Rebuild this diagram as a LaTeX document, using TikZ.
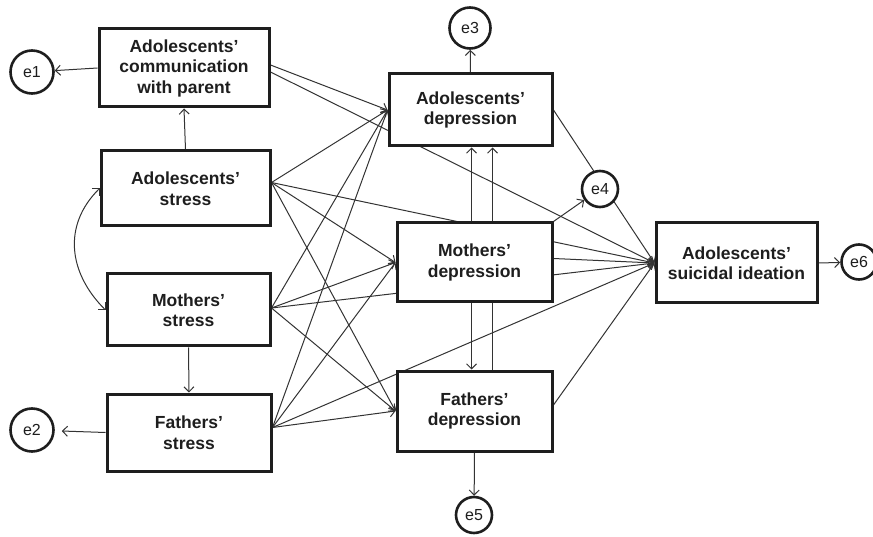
\documentclass[tikz,border=0pt]{standalone}
\usepackage{fontspec}
\setmainfont{Liberation Sans}
\usetikzlibrary{arrows.meta,backgrounds}
\definecolor{ink}{HTML}{1E1E1E}
\definecolor{wire}{HTML}{333333}

\begin{document}
\begin{tikzpicture}[x=1pt,y=-1pt,>={Straight Barb[length=5pt,width=10pt]},
	obs/.style={draw=ink,line width=3pt,fill=white,align=center,text=ink,inner sep=0pt,
		font=\fontsize{17.5}{20.5}\selectfont\bfseries},
	err/.style={draw=ink,circle,line width=2.6pt,fill=white,text=ink,inner sep=0pt,
		font=\fontsize{16}{18}\selectfont},
	link/.style={draw=wire,line width=1pt,->}]
	\useasboundingbox (0,0) rectangle (873,537);
	% observed variables
	\node[obs,minimum width=170pt,minimum height=78pt] (comm) at (184,68) {Adolescents’\\communication\\with parent};
	\node[obs,minimum width=169pt,minimum height=75pt] (as) at (185.5,188.5) {Adolescents’\\stress};
	\node[obs,minimum width=163pt,minimum height=72pt] (ms) at (188.5,310) {Mothers’\\stress};
	\node[obs,minimum width=164pt,minimum height=77pt] (fs) at (189,432.5) {Fathers’\\stress};
	\node[obs,minimum width=163pt,minimum height=72pt] (ad) at (470.5,110) {Adolescents’\\depression};
	\node[obs,minimum width=155pt,minimum height=79pt] (md) at (474.5,262.5) {Mothers’\\depression};
	\node[obs,minimum width=155pt,minimum height=80pt] (fd) at (474.5,411) {Fathers’\\depression};
	\node[obs,minimum width=161pt,minimum height=80pt] (si) at (736.5,263) {Adolescents’\\suicidal ideation};
	% errors
	\node[err,minimum size=43pt] (e1) at (32,72) {e1};
	\node[err,minimum size=43pt] (e2) at (32,430) {e2};
	\node[err,minimum size=41pt] (e3) at (470,28) {e3};
	\node[err,minimum size=36pt] (e4) at (600,189) {e4};
	\node[err,minimum size=36pt] (e5) at (474,515) {e5};
	\node[err,minimum size=35pt] (e6) at (859,262) {e6};
	\coordinate (as-o) at ([yshift=6pt]as.east);
	\coordinate (ms-o) at ([yshift=2pt]ms.east);
	\coordinate (fs-o) at ([yshift=5pt]fs.east);

	\begin{scope}[on background layer]
		\draw[link] (comm.west) -- (e1);
		\draw[link,shorten >=7pt] (fs.west) -- (e2);
		\draw[link] (ad.north) -- (e3);
		\draw[link] (md.north east) -- (e4);
		\draw[link] (fd.south) -- (e5);
		\draw[link] (si.east) -- (e6);
		\draw[link] (as.north) -- (comm.south);
		\draw[link] (ms.south) -- (fs.north);
		\draw[link,<->] (as.west) to[out=225,in=135,looseness=1.1] (ms.west);
		% stress to depression and ideation
		\foreach \s in {as,ms,fs}{
			\foreach \t in {ad,md,fd}
				\draw[link] (\s-o) -- (\t.west);
			\draw[link] (\s-o) -- (si.west);
		}
		\draw[link] ([yshift=3pt]comm.east) -- (ad.west);
		\draw[link] ([yshift=-4pt]comm.east) -- (si.west);
		% between parents and adolescent
		\draw[link] ([xshift=-3pt]md.north) -- ([xshift=-3pt]md.north |- ad.south);
		\draw[link] ([xshift=-3pt]md.south) -- ([xshift=-3pt]md.south |- fd.north);
		\draw[link] ([xshift=18pt]fd.north) -- ([xshift=18pt]fd.north |- ad.south);
		\draw[link] (ad.east) -- (si.west);
		\draw[link] ([yshift=4pt]md.east) -- (si.west);
		\draw[link] ([yshift=6pt]fd.east) -- (si.west);
	\end{scope}
\end{tikzpicture}
\end{document}
